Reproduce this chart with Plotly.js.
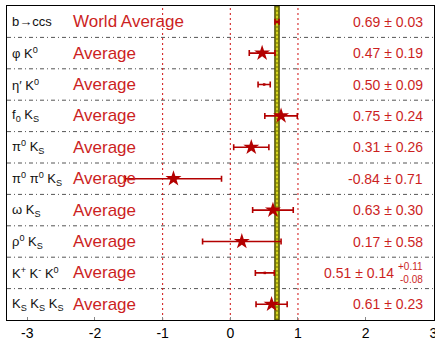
<!DOCTYPE html>
<html>
<head>
<meta charset="utf-8">
<script src="https://cdn.plot.ly/plotly-3.0.1.min.js"></script>
<style>html,body{margin:0;padding:0;background:#fff;}#chart{width:435px;height:340px;}</style>
</head>
<body>
<div id="chart"></div>
<script>
// ---- data ----
var modes = ["b→ccs", "φ K<sup>0</sup>", "η′ K<sup>0</sup>", "f<sub>0</sub> K<sub>S</sub>", "π<sup>0</sup> K<sub>S</sub>",
             "π<sup>0</sup> π<sup>0</sup> K<sub>S</sub>", "ω K<sub>S</sub>", "ρ<sup>0</sup> K<sub>S</sub>",
             "K<sup>+</sup> K<sup>-</sup> K<sup>0</sup>", "K<sub>S</sub> K<sub>S</sub> K<sub>S</sub>"];
var groupLabels = ["World Average", "Average", "Average", "Average", "Average", "Average", "Average", "Average", "Average", "Average"];
var values = [0.69, 0.47, 0.50, 0.75, 0.31, -0.84, 0.63, 0.17, 0.51, 0.61];
var errors = [0.03, 0.19, 0.09, 0.24, 0.26, 0.71, 0.30, 0.58, 0.14, 0.23];
var hasStar = [false, true, false, true, true, true, true, true, false, true];
var extraErrPlus = [null, null, null, null, null, null, null, null, "+0.11", null];
var extraErrMinus = [null, null, null, null, null, null, null, null, "-0.08", null];
var worldAvg = 0.69, worldErr = 0.03;
var refLines = [-1, 0, 1];
var xTicks = [-3, -2, -1, 0, 1, 2, 3];

var rows = values.map(function(v, i){ return i + 1; });
var red = "#b30000", textRed = "#cc1f1f";
var font = "Liberation Sans, Arial, Helvetica, sans-serif";

function pick(arr, cond){ var out=[]; arr.forEach(function(a,i){ if(cond[i]) out.push(a); }); return out; }
var notStar = hasStar.map(function(b){ return !b; });

var traces = [
  { type: "scatter", mode: "markers", x: pick(values, notStar), y: pick(rows, notStar),
    error_x: { type: "data", array: pick(errors, notStar), visible: true, color: red, thickness: 1.6, width: 3 },
    marker: { symbol: "square", size: 2.5, color: red }, hoverinfo: "skip", showlegend: false },
  { type: "scatter", mode: "markers", x: pick(values, hasStar), y: pick(rows, hasStar),
    error_x: { type: "data", array: pick(errors, hasStar), visible: true, color: red, thickness: 1.6, width: 3 },
    marker: { symbol: "star", size: 12, color: red, line: { width: 0 } }, hoverinfo: "skip", showlegend: false }
];

var shapes = [];
for (var k = 1; k < rows.length; k++) {
  shapes.push({ type: "line", xref: "paper", yref: "y", x0: 0, x1: 1, y0: k + 0.5, y1: k + 0.5,
    line: { color: "#555555", width: 1, dash: "4px,3px,1px,3px" }, layer: "below" });
}
refLines.forEach(function(v){
  shapes.push({ type: "line", xref: "x", yref: "paper", x0: v, x1: v, y0: 0, y1: 1,
    line: { color: "#d01010", width: 1, dash: "2px,3px" }, layer: "below" });
});
shapes.push({ type: "rect", xref: "x", yref: "paper", x0: worldAvg - worldErr, x1: worldAvg + worldErr, y0: 0, y1: 1,
  fillcolor: "#d6d61e", line: { color: "#4d4d00", width: 1.5 }, layer: "below" });
shapes.push({ type: "line", xref: "x", yref: "paper", x0: worldAvg, x1: worldAvg, y0: 0, y1: 1,
  line: { color: "#6b6b00", width: 1, dash: "2px,2px" }, layer: "below" });

var annotations = [];
rows.forEach(function(r, i){
  annotations.push({ xref: "paper", yref: "y", x: 0.007, y: r, xanchor: "left", yanchor: "middle", showarrow: false,
    text: modes[i], font: { family: font, size: 13, color: "#111" } });
  annotations.push({ xref: "paper", yref: "y", x: 0.15, y: r, xanchor: "left", yanchor: "middle", showarrow: false,
    text: groupLabels[i], font: { family: font, size: 17, color: textRed } });
  var txt = values[i].toFixed(2) + " ± " + errors[i].toFixed(2);
  if (extraErrPlus[i]) {
    annotations.push({ xref: "paper", yref: "y", x: 0.912, y: r, xanchor: "right", yanchor: "middle", showarrow: false,
      text: txt, font: { family: font, size: 14, color: textRed } });
    annotations.push({ xref: "paper", yref: "y", x: 0.979, y: r, xanchor: "right", yanchor: "bottom", yshift: -1, showarrow: false,
      text: extraErrPlus[i], font: { family: font, size: 10, color: textRed } });
    annotations.push({ xref: "paper", yref: "y", x: 0.979, y: r, xanchor: "right", yanchor: "top", yshift: 1, showarrow: false,
      text: extraErrMinus[i], font: { family: font, size: 10, color: textRed } });
  } else {
    annotations.push({ xref: "paper", yref: "y", x: 0.979, y: r, xanchor: "right", yanchor: "middle", showarrow: false,
      text: txt, font: { family: font, size: 14, color: textRed } });
  }
});

var layout = {
  width: 435, height: 340,
  margin: { l: 7, r: 1, t: 6, b: 20 },
  paper_bgcolor: "#ffffff", plot_bgcolor: "#ffffff",
  font: { family: font, size: 13, color: "#000" },
  xaxis: { range: [-3.3, 3.01], tickvals: xTicks, ticktext: xTicks.map(String), ticks: "inside", ticklen: 3,
    tickcolor: "#888", showgrid: false, zeroline: false, showline: true, linecolor: "#000", linewidth: 1.2,
    mirror: true, ticklabeloverflow: "allow", tickfont: { family: font, size: 14, color: "#000" } },
  yaxis: { range: [10.5, 0.5], showticklabels: false, ticks: "", showgrid: false, zeroline: false,
    showline: true, linecolor: "#000", linewidth: 1.2, mirror: true },
  shapes: shapes, annotations: annotations, showlegend: false
};

Plotly.newPlot("chart", traces, layout, { displayModeBar: false, staticPlot: true });
</script>
</body>
</html>
